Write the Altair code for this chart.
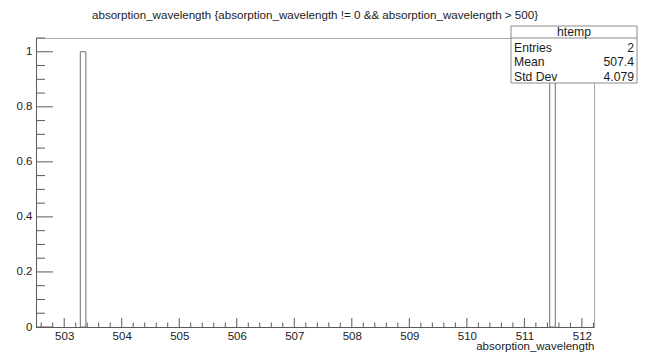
import altair as alt
import pandas as pd

# ---------------- data ----------------
title_text = "absorption_wavelength {absorption_wavelength != 0 && absorption_wavelength > 500}"
x_title = "absorption_wavelength"
x_range = [502.51, 512.21]
y_range = [0.0, 1.05]

bin_low = [503.280, 511.440]
bin_high = [503.377, 511.537]
bin_count = [1, 1]

x_major = [503, 504, 505, 506, 507, 508, 509, 510, 511, 512]
x_minor = [round(502.6 + 0.2 * i, 1) for i in range(49) if round(502.6 + 0.2 * i, 1) % 1 != 0]
y_major = [0.0, 0.2, 0.4, 0.6, 0.8, 1.0]
y_minor = [round(0.05 * i, 2) for i in range(1, 22) if i % 4 != 0]

stats_name = "htemp"
stats_labels = ["Entries", "Mean", "Std Dev"]
stats_values = ["2", "507.4", "4.079"]

# ---------------- layout / style ----------------
W, H = 558, 289
PAD = {"left": 28, "top": 30, "right": 44, "bottom": 26}
FONT = "Liberation Sans"
TXT = "#1c1c1c"
AX = "#5a5a5a"

hist_df = pd.DataFrame({"x": bin_low, "x2": bin_high, "y": bin_count})
xmaj_df = pd.DataFrame({"x": x_major})
xmin_df = pd.DataFrame({"x": [v for v in x_minor if x_range[0] <= v <= x_range[1]]})
ymaj_df = pd.DataFrame({"y": y_major})
ymin_df = pd.DataFrame({"y": y_minor})
one = pd.DataFrame({"a": [0]})

xscale = alt.Scale(domain=x_range, nice=False, zero=False)
yscale = alt.Scale(domain=y_range, nice=False, zero=False)

hist = alt.Chart(hist_df).mark_rect(
    fillOpacity=0, stroke="#6e6e6e", strokeWidth=1
).encode(
    x=alt.X("x:Q", scale=xscale, axis=alt.Axis(
        values=x_major, format="d", ticks=False, tickSize=0, grid=False,
        domainColor=AX, labelPadding=12.5, labelBaseline="alphabetic",
        labelFont=FONT, labelFontSize=11.5, labelColor=TXT,
        title=x_title, titleFont=FONT, titleFontSize=11.5, titleFontWeight="normal",
        titleColor=TXT, titleX=W, titleY=22.5, titleAlign="right",
        titleBaseline="alphabetic", titleAnchor="end")),
    x2="x2:Q",
    y=alt.Y("y:Q", scale=yscale, axis=alt.Axis(
        values=y_major, format="~g", ticks=False, tickSize=0, grid=False,
        domainColor=AX, labelPadding=4, labelFont=FONT, labelFontSize=11.5,
        labelColor=TXT, title=None)),
    y2=alt.datum(0),
)

xmaj = alt.Chart(xmaj_df).mark_rule(color=AX, strokeWidth=1).encode(
    x="x:Q", y=alt.value(H), y2=alt.value(H - 9))
xmin = alt.Chart(xmin_df).mark_rule(color=AX, strokeWidth=1).encode(
    x="x:Q", y=alt.value(H), y2=alt.value(H - 4.5))
ymaj = alt.Chart(ymaj_df).mark_rule(color=AX, strokeWidth=1).encode(
    y="y:Q", x=alt.value(0), x2=alt.value(17))
ymin = alt.Chart(ymin_df).mark_rule(color=AX, strokeWidth=1).encode(
    y="y:Q", x=alt.value(0), x2=alt.value(9))

title = alt.Chart(one).mark_text(
    font=FONT, fontSize=11.6, color=TXT, align="center", baseline="alphabetic"
).encode(text=alt.value(title_text), x=alt.value(W / 2), y=alt.value(-19.5))

# stats box
bx0, bx1, by0, by1 = 475, 601, -12, 45
box = alt.Chart(one).mark_rect(fill="white", stroke="#8a8a8a", strokeWidth=1).encode(
    x=alt.value(bx0), x2=alt.value(bx1), y=alt.value(by0), y2=alt.value(by1))
divider = alt.Chart(one).mark_rule(color="#8a8a8a", strokeWidth=1).encode(
    x=alt.value(bx0), x2=alt.value(bx1), y=alt.value(0))
layers = [box, divider,
          alt.Chart(one).mark_text(font=FONT, fontSize=12.2, color=TXT, align="center",
                                   baseline="alphabetic").encode(
              text=alt.value(stats_name), x=alt.value((bx0 + bx1) / 2), y=alt.value(-2))]
for i, (lab, val) in enumerate(zip(stats_labels, stats_values)):
    yy = 13.5 + 14.5 * i
    layers.append(alt.Chart(one).mark_text(font=FONT, fontSize=12.2, color=TXT, align="left",
                                           baseline="alphabetic").encode(
        text=alt.value(lab), x=alt.value(bx0 + 3), y=alt.value(yy)))
    layers.append(alt.Chart(one).mark_text(font=FONT, fontSize=12.2, color=TXT, align="right",
                                           baseline="alphabetic").encode(
        text=alt.value(val), x=alt.value(bx1 - 3), y=alt.value(yy)))

chart = alt.layer(hist, xmaj, xmin, ymaj, ymin, title, *layers).properties(
    width=W, height=H,
    autosize=alt.AutoSizeParams(type="none"),
    padding=PAD,
    background="white",
).configure_view(stroke="#a8a8a8", strokeWidth=1)

chart.save("out.html", embed_options={"renderer": "svg", "actions": False})
